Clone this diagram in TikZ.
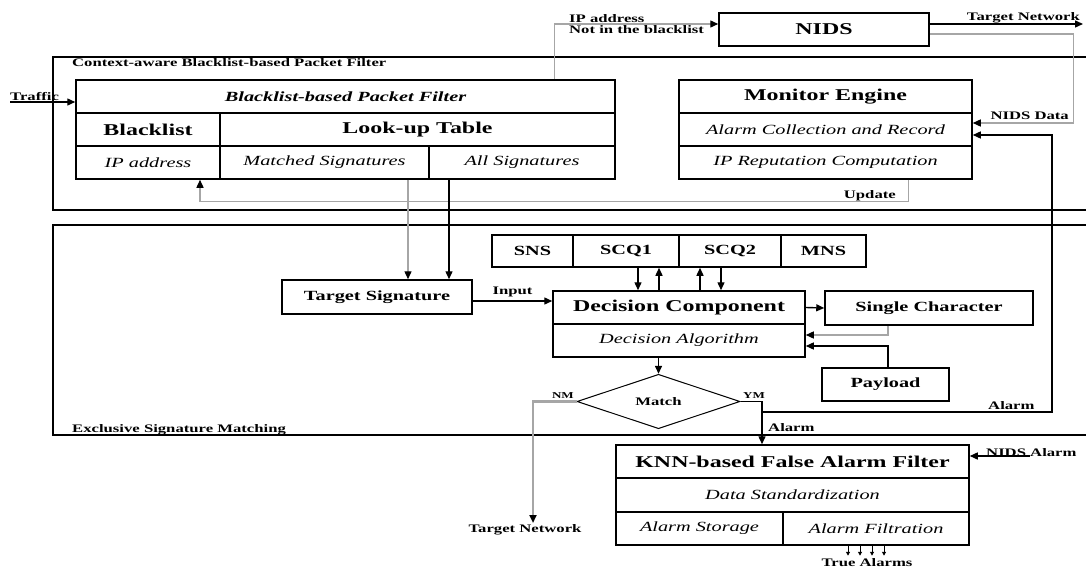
\documentclass[tikz,border=0pt]{standalone}
\usepackage{fontspec}
\setmainfont{Liberation Serif}
\usepackage{graphicx}
\usepackage{tikz}
\usetikzlibrary{positioning, arrows.meta, shapes.geometric}
\newcommand{\wtxt}[1]{\scalebox{1.45}[1]{#1}}
\tikzset{
  cell/.style={draw, line width=1.5pt, inner sep=0pt},
  sz/.style 2 args={minimum width=#1pt, minimum height=#2pt},
  head/.style={cell, font=\bfseries\fontsize{16.5}{18}\selectfont},
  sub/.style={cell, font=\itshape\fontsize{14}{16}\selectfont},
  mid/.style={cell, font=\bfseries\fontsize{14}{16}\selectfont},
  lbl/.style={inner sep=0pt, font=\bfseries\fontsize{11.5}{11}\selectfont},
  frame/.style={line width=1.6pt},
  flow/.style={-{Triangle[length=8pt, width=7pt]}, line width=1.4pt},
  gflow/.style={flow, draw=gray!70, -{Triangle[length=8pt, width=7pt, color=black]}},
  tiny/.style={-{Triangle[length=4pt, width=4pt]}, line width=1pt},
}

\begin{document}
\begin{tikzpicture}[x=1pt, y=-1pt]
  \useasboundingbox (0,0) rectangle (1086,567);
  % frames
  \draw[frame] (1086,57) -| (53,210) -- (1086,210);
  \draw[frame] (1086,225) -| (53,435) -- (1086,435);
  \node[lbl, anchor=west] (cabpf) at (72,63) {\wtxt{Context-aware Blacklist-based Packet Filter}};
  \node[lbl, anchor=base west] (esm) at (72,432) {\wtxt{Exclusive Signature Matching}};

  % packet filter
  \node[cell, sz={539}{33}, font=\bfseries\itshape\fontsize{14}{16}\selectfont] (bpf) at (345.5,96.5) {\wtxt{Blacklist-based Packet Filter}};
  \node[head, sz={144}{33}] (blk) at (148,129.5) {\wtxt{Blacklist}};
  \node[head, sz={395}{33}] (lut) at (417.5,129.5) {\wtxt{Look-up Table}};
  \node[sub, sz={144}{33}] (ipa) at (148,162.5) {\wtxt{IP address}};
  \node[sub, sz={209}{33}] (msig) at (324.5,162.5) {\wtxt{Matched Signatures}};
  \node[sub, sz={186}{33}] (asig) at (522,162.5) {\wtxt{All Signatures}};

  % nids and monitor
  \node[head, sz={210}{33}] (nids) at (824,29.5) {\wtxt{NIDS}};
  \node[head, sz={293}{33}] (mon) at (825.5,96.5) {\wtxt{Monitor Engine}};
  \node[sub, sz={293}{33}] (acr) at (825.5,129.5) {\wtxt{Alarm Collection and Record}};
  \node[sub, sz={293}{33}] (iprc) at (825.5,162.5) {\wtxt{IP Reputation Computation}};

  % signature matching
  \node[mid, sz={190}{34}] (tsig) at (377,297) {\wtxt{Target Signature}};
  \node[mid, sz={81}{32}] (sns) at (532.5,251) {\wtxt{SNS}};
  \node[mid, sz={106}{32}] (scq1) at (626,251) {\wtxt{SCQ1}};
  \node[mid, sz={102}{32}] (scq2) at (730,251) {\wtxt{SCQ2}};
  \node[mid, sz={85}{32}] (mns) at (823.5,251) {\wtxt{MNS}};
  \node[head, sz={252}{33}] (dec) at (679,307.5) {\wtxt{Decision Component}};
  \node[sub, sz={252}{33}] (dalg) at (679,340.5) {\wtxt{Decision Algorithm}};
  \node[mid, sz={208}{34}] (schar) at (929,308) {\wtxt{Single Character}};
  \node[mid, sz={127}{33}] (pay) at (885.5,384.5) {\wtxt{Payload}};
  \node[diamond, draw, line width=1pt, sz={163}{43}, inner sep=0pt,
        font=\bfseries\fontsize{11.5}{12}\selectfont] (match) at (658.5,401.5) {\wtxt{Match}};

  % false alarm filter
  \node[head, sz={353}{33}] (knn) at (792.5,461.5) {\wtxt{KNN-based False Alarm Filter}};
  \node[sub, sz={353}{34}] (dstd) at (792.5,495) {\wtxt{Data Standardization}};
  \node[sub, sz={167}{33}] (astore) at (699.5,528.5) {\wtxt{Alarm Storage}};
  \node[sub, sz={186}{33}] (afilt) at (876,528.5) {\wtxt{Alarm Filtration}};

  % traffic in, nids path
  \coordinate (trf) at (10,102);
  \draw[flow] (trf) -- (trf -| bpf.west);
  \node[lbl, anchor=base west] (trflbl) at (10,101) {\wtxt{Traffic}};
  \draw[gflow] ([xshift=-61pt]bpf.north east) |- ([yshift=5.5pt]nids.west);
  \node[lbl, anchor=west, align=left] (iplbl) at (569,24) {\wtxt{IP address}\\\wtxt{Not in the blacklist}};
  \coordinate (tnet) at (1083,24);
  \draw[flow] ([yshift=5.5pt]nids.east) -- (tnet);
  \node[lbl, anchor=base east] (tnetlbl) at (1080,21) {\wtxt{Target Network}};
  \draw[gflow] ([yshift=-4.5pt]nids.east) -- ++(144pt,0) |- ([yshift=6.5pt]acr.east);
  \node[lbl, anchor=base east] (ndlbl) at (1069,120) {\wtxt{NIDS Data}};
  \draw[gflow] ([xshift=-64pt]iprc.south east) -- ++(0,-22pt) -| ([xshift=52pt]ipa.south);
  \node[lbl, anchor=base east] (updlbl) at (896,198) {\wtxt{Update}};

  % look-up table to target signature
  \draw[gflow] ([xshift=83.5pt]msig.south) -- ([xshift=83.5pt]msig.south |- tsig.north);
  \draw[flow] ([xshift=-73pt]asig.south) -- ([xshift=-73pt]asig.south |- tsig.north);
  \draw[flow] ([yshift=-4pt]tsig.east) -- ([yshift=-4pt]tsig.east -| dec.west)
    node[lbl, midway, above=3pt] (inlbl) {\wtxt{Input}};

  % queues
  \foreach \q/\dx in {scq1/12, scq2/-9} \draw[flow] ([xshift=\dx pt]\q.south) -- ([xshift=\dx pt]\q.south |- dec.north);
  \foreach \q/\dx in {scq1/33, scq2/-30} \draw[flow] ([xshift=\dx pt]\q.south |- dec.north) -- ([xshift=\dx pt]\q.south);

  % decision inputs and outputs
  \draw[flow] (dec.east) -- (schar.west);
  \draw[gflow] ([xshift=-41pt]schar.south) |- ([yshift=5.5pt]dalg.east);
  \draw[flow] ([xshift=2.5pt]pay.north) |- ([yshift=-5.5pt]dalg.east);
  \draw[flow] (dalg.south -| match.north) -- (match.north);

  % match results
  \coordinate (tnet2) at (533,523);
  \draw[gflow, line width=2.2pt] (match.west) -| (tnet2);
  \node[lbl, anchor=north] (tnet2lbl) at (525,524) {\wtxt{Target Network}};
  \node[lbl, anchor=base east, font=\bfseries\fontsize{9}{10}\selectfont] (nmlbl) at (574,398) {\wtxt{NM}};
  \node[lbl, anchor=base west, font=\bfseries\fontsize{9}{10}\selectfont] (ymlbl) at (743,398) {\wtxt{YM}};
  \draw[flow] (match.east) -| ([xshift=-30.5pt]knn.north);
  \node[lbl, anchor=base west] (al1lbl) at (768,431) {\wtxt{Alarm}};
  \coordinate (ymj) at (762,412);
  \draw[flow] (ymj) -- ++(290pt,0) |- ([yshift=-5.5pt]acr.east);
  \node[lbl, anchor=base west] (al2lbl) at (988,409) {\wtxt{Alarm}};

  % nids alarm and true alarms
  \coordinate (nal) at (1030,456);
  \draw[flow] (nal) -- (nal -| knn.east);
  \node[lbl, anchor=base west] (nallbl) at (986,456) {\wtxt{NIDS Alarm}};
  \foreach \dx in {-28,-16,-4,8} \draw[tiny] ([xshift=\dx pt]afilt.south) -- ++(0,-10pt);
  \node[lbl, anchor=base] (tallbl) at (867,566) {\wtxt{True Alarms}};
\end{tikzpicture}
\end{document}
